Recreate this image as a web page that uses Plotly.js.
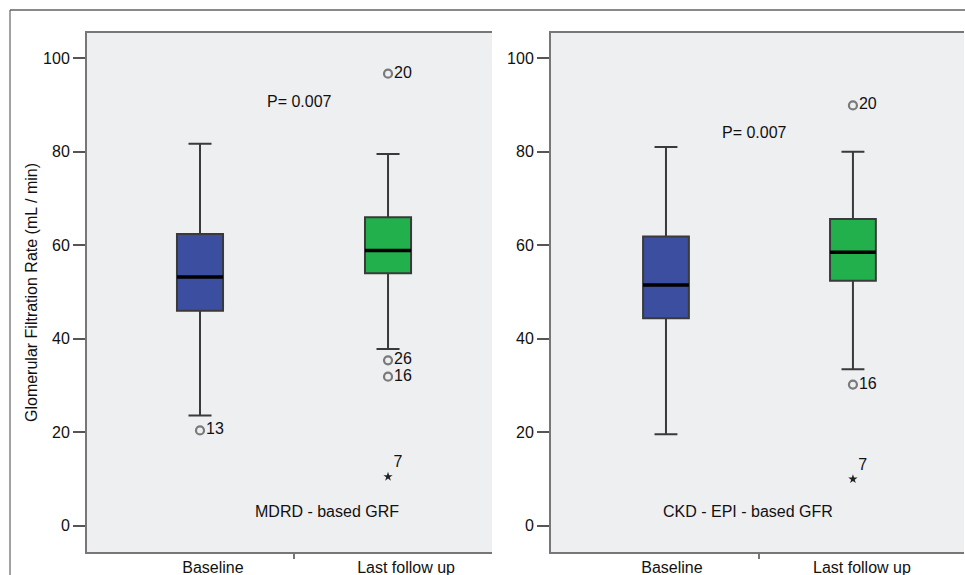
<!DOCTYPE html>
<html>
<head>
<meta charset="utf-8">
<script src="https://cdn.plot.ly/plotly-3.0.1.min.js"></script>
<style>html,body{margin:0;padding:0;background:#fff;}#chart{width:965px;height:575px;}</style>
</head>
<body>
<div id="chart"></div>
<script>
// ---- Data ----
const groups = ["Baseline", "Last follow up"];
const groupPos = [0, 1];

// MDRD-based GFR
const mdrdLowerFence = [23.6, 37.8];
const mdrdQ1 = [46.0, 54.0];
const mdrdMedian = [53.2, 58.9];
const mdrdQ3 = [62.4, 66.0];
const mdrdUpperFence = [81.7, 79.5];
const mdrdOutlierX = [0, 1, 1, 1];
const mdrdOutlierY = [20.4, 96.7, 35.4, 31.9];
const mdrdOutlierLabel = ["13", "20", "26", "16"];
const mdrdExtremeX = [1];
const mdrdExtremeY = [10.5];
const mdrdExtremeLabel = ["7"];

// CKD-EPI-based GFR
const ckdLowerFence = [19.6, 33.5];
const ckdQ1 = [44.4, 52.4];
const ckdMedian = [51.5, 58.5];
const ckdQ3 = [61.9, 65.6];
const ckdUpperFence = [81.0, 80.0];
const ckdOutlierX = [1, 1];
const ckdOutlierY = [89.9, 30.2];
const ckdOutlierLabel = ["20", "16"];
const ckdExtremeX = [1];
const ckdExtremeY = [10.0];
const ckdExtremeLabel = ["7"];

const yTickVals = [0, 20, 40, 60, 80, 100];
const pText = "P= 0.007";
const panelTitles = ["MDRD - based GRF", "CKD - EPI - based GFR"];
const yTitle = "Glomerular Filtration Rate (mL / min)";

// ---- Styles ----
const FONT = "Liberation Sans, Arial, Helvetica, sans-serif";
const FS = 16;
const boxColors = ["#3B4EA0", "#21B04B"];
const traces = [];

function addPanel(xa, ya, lf, q1, med, q3, uf, ox, oy, ol, ex, ey, el) {
  for (let i = 0; i < groups.length; i++) {
    traces.push({
      type: "box", xaxis: xa, yaxis: ya, name: groups[i],
      x: [groupPos[i]], q1: [q1[i]], median: [med[i]], q3: [q3[i]],
      lowerfence: [lf[i]], upperfence: [uf[i]],
      width: 0.245, whiskerwidth: 0.5,
      fillcolor: boxColors[i],
      line: {color: "#3a3a3a", width: 2},
      hoverinfo: "skip", showlegend: false
    });
    // thick black median line
    traces.push({
      type: "box", xaxis: xa, yaxis: ya,
      x: [groupPos[i]], q1: [med[i]], median: [med[i]], q3: [med[i]],
      lowerfence: [med[i]], upperfence: [med[i]],
      width: 0.245, whiskerwidth: 0,
      fillcolor: "rgba(0,0,0,0)",
      line: {color: "#000000", width: 3.5},
      hoverinfo: "skip", showlegend: false
    });
  }
  traces.push({
    type: "scatter", mode: "markers+text", xaxis: xa, yaxis: ya,
    x: ox, y: oy, text: ol, textposition: "middle right",
    textfont: {family: FONT, size: FS, color: "#111"},
    marker: {symbol: "circle-open", size: 8, color: "#7a7a7a", line: {width: 2.2, color: "#7a7a7a"}},
    cliponaxis: false, hoverinfo: "skip", showlegend: false
  });
  traces.push({
    type: "scatter", mode: "markers+text", xaxis: xa, yaxis: ya,
    x: ex, y: ey, text: el, textposition: "top right",
    textfont: {family: FONT, size: FS, color: "#111"},
    marker: {symbol: "star", size: 7, color: "#222"},
    cliponaxis: false, hoverinfo: "skip", showlegend: false
  });
}

addPanel("x", "y", mdrdLowerFence, mdrdQ1, mdrdMedian, mdrdQ3, mdrdUpperFence,
  mdrdOutlierX, mdrdOutlierY, mdrdOutlierLabel, mdrdExtremeX, mdrdExtremeY, mdrdExtremeLabel);
addPanel("x2", "y2", ckdLowerFence, ckdQ1, ckdMedian, ckdQ3, ckdUpperFence,
  ckdOutlierX, ckdOutlierY, ckdOutlierLabel, ckdExtremeX, ckdExtremeY, ckdExtremeLabel);

const W = 965, H = 575;
const yDomain = [1 - 552 / H, 1 - 33 / H];

function xAxis(domain, range, labelPos) {
  return {
    domain: domain, range: range, showgrid: false, zeroline: false,
    showline: true, mirror: true, linecolor: "#777", linewidth: 2,
    tickmode: "array", tickvals: labelPos, ticktext: groups, ticks: "",
    tickfont: {family: FONT, size: FS, color: "#111"},
    minor: {tickmode: "array", tickvals: [0.5], ticks: "outside", ticklen: 5, tickwidth: 2, tickcolor: "#777", showgrid: false},
    fixedrange: true
  };
}
function yAxis(anchor) {
  return {
    domain: yDomain, range: [-5.6, 105.4], anchor: anchor,
    showgrid: false, zeroline: false,
    showline: true, mirror: false, linecolor: "#777", linewidth: 2,
    tickmode: "array", tickvals: yTickVals,
    ticks: "outside", ticklen: 12, tickwidth: 2, tickcolor: "#555",
    tickfont: {family: FONT, size: FS, color: "#111"},
    fixedrange: true
  };
}

const layout = {
  width: W, height: H,
  margin: {l: 0, r: 0, t: 0, b: 0},
  paper_bgcolor: "#ffffff", plot_bgcolor: "#EEEFF1",
  showlegend: false, boxmode: "overlay",
  font: {family: FONT, color: "#111"},
  xaxis: xAxis([87 / W, 492 / W], [-0.601, 1.553], [0.069, 1.096]),
  yaxis: Object.assign(yAxis("x"), {
    title: {text: yTitle, font: {family: FONT, size: FS, color: "#111"}, standoff: 1}
  }),
  xaxis2: Object.assign(xAxis([551 / W, 964 / W], [-0.615, 1.594], [0.032, 1.048]), {anchor: "y2"}),
  yaxis2: yAxis("x2"),
  annotations: [
    {xref: "x", yref: "y", x: 0.527, y: 90.8, text: pText, showarrow: false, font: {family: FONT, size: FS, color: "#111"}},
    {xref: "x2", yref: "y2", x: 0.476, y: 84.2, text: pText, showarrow: false, font: {family: FONT, size: FS, color: "#111"}},
    {xref: "x", yref: "y", x: 0.676, y: 3.0, text: panelTitles[0], showarrow: false, font: {family: FONT, size: FS, color: "#111"}},
    {xref: "x2", yref: "y2", x: 0.44, y: 3.0, text: panelTitles[1], showarrow: false, font: {family: FONT, size: FS, color: "#111"}}
  ],
  shapes: [
    {type: "line", xref: "paper", yref: "paper", x0: 10 / W, x1: 1, y0: 1 - 10 / H, y1: 1 - 10 / H, line: {color: "#8a8a8a", width: 2}},
    {type: "line", xref: "paper", yref: "paper", x0: 10 / W, x1: 10 / W, y0: 0, y1: 1 - 10 / H, line: {color: "#444", width: 1}}
  ]
};

Plotly.newPlot("chart", traces, layout, {displayModeBar: false, staticPlot: true});
</script>
</body>
</html>
